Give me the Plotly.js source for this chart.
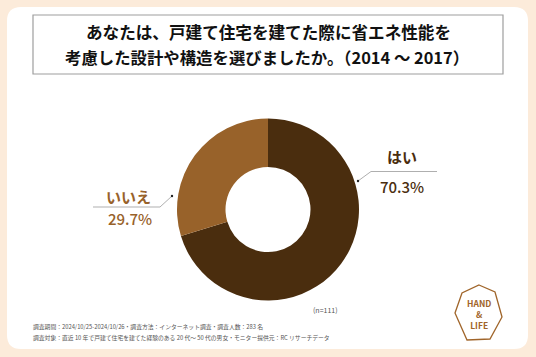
<!DOCTYPE html>
<html><head><meta charset="utf-8">
<script src="https://cdn.plot.ly/plotly-3.0.1.min.js"></script>
<style>html,body{margin:0;padding:0;background:#FCEBDA;}#c{width:536px;height:357px;}</style>
</head><body><div id="c"></div>
<script>
const categories = ["はい", "いいえ"];
const values = [70.3, 29.7];
const labelTexts = ["70.3%", "29.7%"];
const sampleNote = "(n=111)";
const titleLines = ["あなたは、戸建て住宅を建てた際に省エネ性能を", "考慮した設計や構造を選びましたか。（2014 〜 2017）"];
const footnotes = ["調査期間：2024/10/25-2024/10/26・調査方法：インターネット調査・調査人数：283 名",
  "調査対象：直近 10 年で戸建て住宅を建てた経験のある 20 代〜 50 代の男女・モニター提供元：RC リサーチデータ"];
const logoText = "HAND<br>&<br>LIFE";

const W = 536, H = 357;
const px = x => x / W, py = y => 1 - y / H;
const colors = ["#4A2D0E", "#98622A"];
const font = "'Noto Sans CJK JP', 'Noto Sans', sans-serif";

function roundRect(x0, y0, x1, y1, r) {
  const X = v => px(v), Y = v => py(v);
  return `M${X(x0 + r)},${Y(y0)} L${X(x1 - r)},${Y(y0)} Q${X(x1)},${Y(y0)} ${X(x1)},${Y(y0 + r)} ` +
    `L${X(x1)},${Y(y1 - r)} Q${X(x1)},${Y(y1)} ${X(x1 - r)},${Y(y1)} L${X(x0 + r)},${Y(y1)} ` +
    `Q${X(x0)},${Y(y1)} ${X(x0)},${Y(y1 - r)} L${X(x0)},${Y(y0 + r)} Q${X(x0)},${Y(y0)} ${X(x0 + r)},${Y(y0)} Z`;
}
function poly(pts) {
  return "M" + pts.map(p => px(p[0]) + "," + py(p[1])).join(" L") + " Z";
}
function line(pts) {
  return "M" + pts.map(p => px(p[0]) + "," + py(p[1])).join(" L");
}

const shapes = [
  {type: "path", xref: "paper", yref: "paper", path: roundRect(7, 7, 528, 349, 14), fillcolor: "#FFFFFF", line: {width: 0}, layer: "below"},
  {type: "rect", xref: "paper", yref: "paper", x0: px(33), x1: px(503), y0: py(74), y1: py(15), line: {color: "#9E9E9E", width: 1.2}, fillcolor: "rgba(0,0,0,0)"},
  // leader lines
  {type: "path", xref: "paper", yref: "paper", path: line([[358, 181], [371, 171.5], [437, 171.5]]), line: {color: "#AFAFAF", width: 1}},
  {type: "path", xref: "paper", yref: "paper", path: line([[172, 196], [160, 207], [93, 207]]), line: {color: "#AFAFAF", width: 1}},
  {type: "circle", xref: "paper", yref: "paper", x0: px(356.8), x1: px(359.2), y0: py(182.2), y1: py(179.8), fillcolor: "#222", line: {width: 0}},
  {type: "circle", xref: "paper", yref: "paper", x0: px(170.8), x1: px(173.2), y0: py(197.2), y1: py(194.8), fillcolor: "#222", line: {width: 0}},
  // logo
  {type: "path", xref: "paper", yref: "paper", path: poly([[479, 285], [495, 292], [502, 317], [490, 339], [467, 340], [455, 313], [462, 293]]), line: {color: "#A0652A", width: 1.3}, fillcolor: "rgba(0,0,0,0)"}
];

const annotations = [
  {text: titleLines[0], x: px(268), y: py(32), font: {size: 16.6, color: "#111", family: font, weight: 700}},
  {text: titleLines[1], x: px(267), y: py(57), font: {size: 16.4, color: "#111", family: font, weight: 700}},
  {text: categories[0], x: px(402), y: py(156), font: {size: 15, color: colors[0], family: font, weight: 700}},
  {text: labelTexts[0], x: px(402), y: py(186), font: {size: 15, color: colors[0], family: font, weight: 500}},
  {text: categories[1], x: px(128), y: py(196), font: {size: 15, color: colors[1], family: font, weight: 700}},
  {text: labelTexts[1], x: px(130), y: py(218), font: {size: 15, color: colors[1], family: font, weight: 500}},
  {text: sampleNote, x: px(325), y: py(310), font: {size: 7, color: "#555", family: font}},
  {text: footnotes[0], x: px(31), y: py(326), xanchor: "left", font: {size: 5.8, color: "#555", family: font}},
  {text: footnotes[1], x: px(31), y: py(337), xanchor: "left", font: {size: 5.8, color: "#555", family: font}},
  {text: logoText, x: px(479), y: py(314), font: {size: 8.5, color: "#A0652A", family: font, weight: 700}}
].map(a => Object.assign({xref: "paper", yref: "paper", showarrow: false, xanchor: "center", yanchor: "middle"}, a));

const trace = {
  type: "pie", labels: categories, values: values, hole: 0.467, sort: false,
  direction: "clockwise", rotation: 0, textinfo: "none", hoverinfo: "none",
  marker: {colors: colors, line: {width: 0}},
  domain: {x: [px(177), px(359)], y: [py(300.5), py(118.5)]},
  showlegend: false
};

Plotly.newPlot("c", [trace], {
  width: W, height: H, margin: {l: 0, r: 0, t: 0, b: 0},
  paper_bgcolor: "#FCEBDA", plot_bgcolor: "#FCEBDA",
  shapes: shapes, annotations: annotations, showlegend: false
}, {staticPlot: true, displayModeBar: false});
</script></body></html>
